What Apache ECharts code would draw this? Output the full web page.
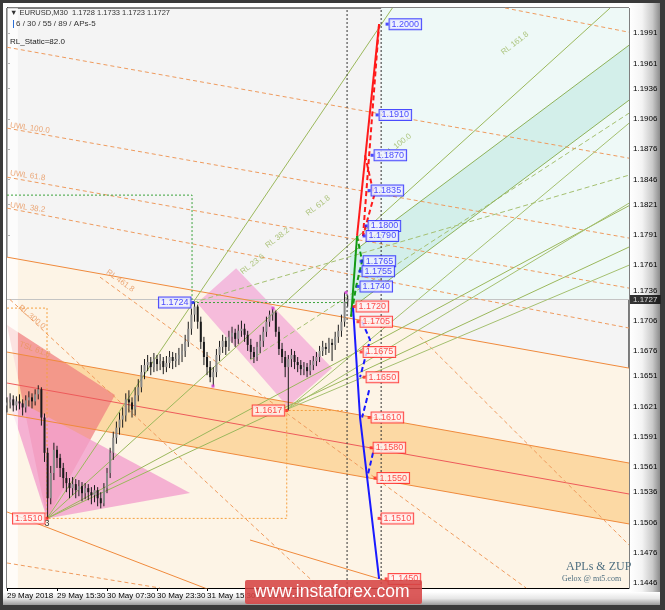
<!DOCTYPE html>
<html><head><meta charset="utf-8">
<script src="https://cdn.jsdelivr.net/npm/echarts@6/dist/echarts.min.js"></script>
<style>
html,body{margin:0;padding:0;width:665px;height:610px;overflow:hidden;background:#3a3a3a;}
#frame{position:absolute;left:3px;top:3px;width:657px;height:602px;background:#fff;}
#rbev{position:absolute;left:630px;top:3px;width:30px;height:602px;background:linear-gradient(to right,#ffffff 0%,#f4f4f4 40%,#c9c9c9 75%,#8c8c8c 100%);}
#bbev{position:absolute;left:3px;top:592px;width:657px;height:13px;background:linear-gradient(to bottom,#ffffff 0%,#e6e6e6 50%,#9a9a9a 100%);}
#chart{position:absolute;left:0;top:0;width:665px;height:610px;}
</style></head><body>
<div id="frame"></div><div id="rbev"></div><div id="bbev"></div><div id="chart"></div>
<script>
// ---------- axis ticks ----------
const xTickValues = [0, 32, 64, 96, 128, 160, 192];
const xTickLabels = ['29 May 2018', '29 May 15:30', '30 May 07:30', '30 May 23:30', '31 May 15:30', '01 Jun 07:30', '01 Jun 23:30'];
const yTickValues = [1.1446, 1.1476, 1.1506, 1.1536, 1.1561, 1.1591, 1.1621, 1.1651, 1.1676, 1.1706, 1.1736, 1.1761, 1.1791, 1.1821, 1.1846, 1.1876, 1.1906, 1.1936, 1.1961, 1.1991];
const lastPrice = 1.1727;

// ---------- price bars (open, close, low, high), one every 2 M30 bars ----------
const priceBars = [
[1.1622,1.1625,1.1615,1.1630],[1.1625,1.1628,1.1619,1.1634],[1.1628,1.1622,1.1616,1.1632],[1.1622,1.1626,1.1617,1.1631],
[1.1626,1.1624,1.1618,1.1633],[1.1624,1.1620,1.1612,1.1628],[1.1620,1.1627,1.1615,1.1632],[1.1627,1.1630,1.1621,1.1636],
[1.1630,1.1626,1.1619,1.1634],[1.1626,1.1633,1.1622,1.1638],[1.1633,1.1638,1.1628,1.1642],[1.1638,1.1610,1.1602,1.1640],
[1.1610,1.1575,1.1566,1.1614],[1.1575,1.1530,1.1510,1.1580],[1.1530,1.1555,1.1524,1.1562],[1.1555,1.1578,1.1548,1.1585],
[1.1578,1.1570,1.1560,1.1582],[1.1570,1.1560,1.1551,1.1574],[1.1560,1.1550,1.1540,1.1565],[1.1550,1.1545,1.1536,1.1556],
[1.1545,1.1540,1.1530,1.1550],[1.1540,1.1544,1.1533,1.1551],[1.1544,1.1538,1.1530,1.1549],[1.1538,1.1542,1.1532,1.1548],
[1.1542,1.1535,1.1527,1.1546],[1.1535,1.1540,1.1529,1.1545],[1.1540,1.1536,1.1528,1.1544],[1.1536,1.1533,1.1524,1.1541],
[1.1533,1.1538,1.1526,1.1543],[1.1538,1.1530,1.1522,1.1541],[1.1530,1.1525,1.1520,1.1536],[1.1525,1.1540,1.1522,1.1545],
[1.1540,1.1555,1.1535,1.1560],[1.1555,1.1575,1.1550,1.1580],[1.1575,1.1590,1.1568,1.1596],[1.1590,1.1600,1.1584,1.1606],
[1.1600,1.1608,1.1593,1.1615],[1.1608,1.1612,1.1600,1.1620],[1.1612,1.1628,1.1606,1.1634],[1.1628,1.1625,1.1615,1.1637],
[1.1625,1.1618,1.1610,1.1630],[1.1618,1.1632,1.1612,1.1640],[1.1632,1.1640,1.1626,1.1648],[1.1640,1.1655,1.1635,1.1662],
[1.1655,1.1662,1.1648,1.1668],[1.1662,1.1665,1.1656,1.1672],[1.1665,1.1660,1.1652,1.1670],[1.1660,1.1668,1.1655,1.1674],
[1.1668,1.1663,1.1656,1.1672],[1.1663,1.1666,1.1657,1.1673],[1.1666,1.1660,1.1653,1.1670],[1.1660,1.1664,1.1655,1.1671],
[1.1664,1.1670,1.1659,1.1676],[1.1670,1.1666,1.1658,1.1675],[1.1666,1.1668,1.1660,1.1674],[1.1668,1.1672,1.1662,1.1679],
[1.1672,1.1676,1.1665,1.1683],[1.1676,1.1685,1.1670,1.1692],[1.1685,1.1698,1.1680,1.1705],[1.1698,1.1712,1.1692,1.1718],
[1.1712,1.1720,1.1705,1.1724],[1.1720,1.1705,1.1698,1.1722],[1.1705,1.1685,1.1678,1.1710],[1.1685,1.1670,1.1662,1.1690],
[1.1670,1.1660,1.1652,1.1675],[1.1660,1.1650,1.1645,1.1666],[1.1650,1.1655,1.1641,1.1660],[1.1655,1.1672,1.1650,1.1678],
[1.1672,1.1680,1.1666,1.1686],[1.1680,1.1686,1.1674,1.1692],[1.1686,1.1680,1.1672,1.1690],[1.1680,1.1690,1.1676,1.1696],
[1.1690,1.1694,1.1684,1.1700],[1.1694,1.1688,1.1680,1.1698],[1.1688,1.1696,1.1683,1.1702],[1.1696,1.1698,1.1690,1.1706],
[1.1698,1.1692,1.1685,1.1703],[1.1692,1.1682,1.1676,1.1696],[1.1682,1.1675,1.1668,1.1688],[1.1675,1.1670,1.1664,1.1680],
[1.1670,1.1680,1.1666,1.1685],[1.1680,1.1686,1.1674,1.1692],[1.1686,1.1695,1.1680,1.1700],[1.1695,1.1705,1.1690,1.1710],
[1.1705,1.1712,1.1700,1.1716],[1.1712,1.1714,1.1706,1.1718],[1.1714,1.1695,1.1690,1.1716],[1.1695,1.1678,1.1672,1.1700],
[1.1678,1.1670,1.1664,1.1684],[1.1670,1.1660,1.1650,1.1676],[1.1660,1.1668,1.1617,1.1672],[1.1668,1.1672,1.1660,1.1678],
[1.1672,1.1665,1.1658,1.1676],[1.1665,1.1662,1.1655,1.1670],[1.1662,1.1658,1.1652,1.1667],[1.1658,1.1660,1.1652,1.1665],
[1.1660,1.1656,1.1650,1.1664],[1.1656,1.1662,1.1652,1.1667],[1.1662,1.1666,1.1657,1.1671],[1.1666,1.1670,1.1661,1.1675],
[1.1670,1.1676,1.1665,1.1681],[1.1676,1.1680,1.1671,1.1686],[1.1680,1.1678,1.1672,1.1684],[1.1678,1.1684,1.1674,1.1689],
[1.1684,1.1682,1.1666,1.1688],[1.1682,1.1690,1.1677,1.1695],[1.1690,1.1696,1.1684,1.1702],[1.1696,1.1705,1.1690,1.1712],
[1.1705,1.1725,1.1700,1.1734],[1.1725,1.1727,1.1720,1.1731]
];
// swing markers on the price bars
const swingMarks = [[131.8,1.16412],[170.2,1.17185],[217,1.1734]];

// ---------- shaded areas (x in M30 bars, y in price) ----------
const peachArea   = [[0,1.1769],[398,1.1659],[398,1.1441],[0,1.1441]];
const orangeBand  = [[0,1.16749],[398,1.15649],[398,1.15045],[0,1.16135]];
const salmonTri   = [[0,1.17017],[69.1,1.16323],[25.6,1.1510]];
const pinkTri     = [[0,1.16323],[117.1,1.15352],[25.6,1.1510]];
const pinkBox     = [[121.6,1.17235],[146.6,1.17581],[208,1.1659],[179.8,1.16204]];
const tealLight   = [[239.4,1.1727],[398,1.1727],[398,1.2016],[239.4,1.2016]];
const tealBand    = [[219.5,1.1772],[398,1.19791],[398,1.19246],[219.5,1.17175]];
const leftStrip   = [[0,1.1441],[7,1.1441],[7,1.2016],[0,1.2016]];

// ---------- lines ----------
const channelTop   = [[0,1.1769],[398,1.1659]];
const bandTop      = [[0,1.16749],[398,1.15649]];
const bandMid      = [[0,1.16442],[398,1.15342]];
const bandBottom   = [[0,1.16135],[398,1.15045]];
const lowerSolid = [
  [[0,1.15164],[129.9,1.1439]],
  [[155.5,1.14886],[257.9,1.1441]]
];
const uwlLines = [
  [[0,1.19771],[398,1.18671]],
  [[0,1.18969],[398,1.17879]],
  [[0,1.18483],[398,1.17383]],
  [[0,1.18176],[398,1.16987]],
  [[318.7,1.2016],[398,1.1992]],
  [[0,1.14658],[97.9,1.1441]]
];
const rlOrangeLines = [
  [[59.5,1.17492],[332.2,1.1441]],
  [[1.9,1.1727],[200.3,1.1441]],
  [[264.3,1.1690],[398,1.14836]]
];
const fanLines = [
  [[25.6,1.1510],[246.6,1.2016]],
  [[25.6,1.1510],[385.9,1.2016]],
  [[25.6,1.1510],[398,1.1820]],
  [[25.6,1.1510],[398,1.1779]]
];
const lowFanLines = [
  [[179,1.1618],[398,1.1761]],
  [[179,1.1618],[398,1.19018]],
  [[179,1.1618],[398,1.18225]]
];
const oliveDashed = [
  [[119,1.1724],[398,1.18503]],
  [[155.5,1.1667],[398,1.19117]]
];
const tealEdges = [
  [[219.5,1.1772],[398,1.19791]],
  [[219.5,1.17175],[398,1.19246]]
];
const greenBoxH = [[0,1.18305],[118.4,1.18305],[118.4,1.1724]];
const greenHigh = [[119,1.1724],[218,1.1724]];
const orangeBox = [[0,1.17185],[25.6,1.17185],[25.6,1.1510],[179,1.1510],[179,1.1617],[218,1.1617]];
const timeMarks = [217.6, 239.4];

// ZUP projection lines
const redSolid   = [[224,1.1790],[238.1,1.2000]];
const redDashed  = [[227.8,1.1790],[238.1,1.2000]];
const redDashed2 = [[229.1,1.1870],[234.9,1.1830],[227.8,1.1790]];
const greenSolid = [[220.2,1.1710],[224,1.1790]];
const greenDashed= [[224,1.1790],[227.2,1.1765],[223.4,1.1740],[220.2,1.1710]];
const blueSolid  = [[221.4,1.1720],[225.9,1.1610],[238.1,1.1450]];
const blueDashed = [
  [[227.2,1.1705],[232.3,1.1687],[225.9,1.1650]],
  [[231.7,1.1637],[227.2,1.1610]],
  [[234.2,1.1575],[230.4,1.1550]]
];

// ZUP target labels [x, price]
const blueTargets = [[243.2,1.2000],[236.8,1.1910],[233.6,1.1870],[231.7,1.1835],[229.8,1.1800],[228.5,1.1790],[226.6,1.1765],[225.9,1.1755],[224.6,1.1740]];
const redTargets  = [[222.1,1.1720],[224.6,1.1705],[226.6,1.1675],[228.5,1.1650],[231.7,1.1610],[233,1.1580],[235.5,1.1550],[238.1,1.1510],[242.6,1.1450]];
const swingHigh = [119, 1.1724];
const swingLow  = [179, 1.1617];
const pivot3    = [25.6, 1.1510];

// text marks along the lines
const uwlTexts = [[1.9,1.18998,'UWL 100.0'],[1.9,1.18523,'UWL 61.8'],[1.9,1.18206,'UWL 38.2']];
const rlTexts  = [[325,1.1981,'RL 161.8'],[250,1.1880,'RL 100.0'],[199,1.1820,'RL 61.8'],[173,1.1788,'RL 38.2'],[157,1.1762,'RL 23.6']];
const orangeTexts = [[64,1.1755,'RL 461.8',-36],[8,1.1720,'RL 300.0',-40],[8,1.1683,'TSL 61.8',-20]];

const FONT = 'Liberation Sans, Arial, sans-serif';
const chart = echarts.init(document.getElementById('chart'));

function poly(points, fill, z) {
  return { type: 'custom', silent: true, clip: true, z: z, animation: false,
    data: [points[0]],
    renderItem: function (params, api) {
      return { type: 'polygon', shape: { points: points.map(function (p) { return api.coord(p); }) }, style: { fill: fill } };
    } };
}
function line(pts, color, type, width, z) {
  return { type: 'line', data: pts, symbol: 'none', silent: true, animation: false, z: z || 3,
    lineStyle: { color: color, width: width || 1, type: type || 'solid' } };
}
function targetLabels(pts, col, bg) {
  return { type: 'scatter', data: pts, symbol: 'rect', symbolSize: 3, z: 20, clip: false, animation: false,
    itemStyle: { color: col },
    label: { show: true, position: 'right', distance: 1, formatter: function (p) { return p.value[1].toFixed(4); },
      color: col, fontSize: 9, fontFamily: FONT, backgroundColor: bg, borderColor: col, borderWidth: 1, padding: [1, 2, 0, 2] } };
}

const series = [];
series.push(poly(peachArea, '#fdf4e6', 1));
series.push(poly(tealLight, '#eef9f7', 1));
series.push(poly(tealBand, '#d3efea', 1));
series.push(poly(orangeBand, '#fcd9a4', 1));
series.push(poly(salmonTri, 'rgba(240,130,130,0.75)', 1));
series.push(poly(pinkTri, 'rgba(243,160,205,0.8)', 1));
series.push(poly(pinkBox, 'rgba(243,170,215,0.75)', 1));
series.push(poly(leftStrip, 'rgba(255,255,255,0.7)', 1));

series.push(line(channelTop, '#f08a3c', 'solid', 1));
series.push(line(bandTop, '#f08a3c', 'solid', 1));
series.push(line(bandMid, '#ee5a5a', 'solid', 1));
series.push(line(bandBottom, '#f08a3c', 'solid', 1));
lowerSolid.forEach(function (l) { series.push(line(l, '#f08a3c', 'solid', 1)); });
uwlLines.forEach(function (l) { series.push(line(l, '#ef9b5e', [4, 3], 1)); });
rlOrangeLines.forEach(function (l) { series.push(line(l, '#ef9b5e', [4, 3], 1)); });
fanLines.forEach(function (l) { series.push(line(l, '#9bb85c', 'solid', 1)); });
lowFanLines.forEach(function (l) { series.push(line(l, '#a5c070', 'solid', 1)); });
oliveDashed.forEach(function (l) { series.push(line(l, '#a5c070', [5, 3], 1)); });
tealEdges.forEach(function (l) { series.push(line(l, '#8fb35a', 'solid', 1)); });
series.push(line(greenBoxH, '#3aa23a', [2, 2], 1));
series.push(line(greenHigh, '#3aa23a', [2, 2], 1));
series.push(line(orangeBox, '#f5a040', [2, 2], 1));
timeMarks.forEach(function (t) { series.push(line([[t, 1.1441], [t, 1.2016]], '#333', [2, 2], 1, 4)); });
series.push(line([[0, lastPrice], [398, lastPrice]], '#c4c4c4', 'solid', 1, 2));

// candles
series.push({ type: 'custom', z: 10, animation: false, silent: true,
  data: priceBars.map(function (b, i) { return [i * 2, b[0], b[1], b[2], b[3]]; }),
  renderItem: function (params, api) {
    const u = api.value(0), o = api.value(1), c = api.value(2), l = api.value(3), h = api.value(4);
    const pl = api.coord([u, l]), ph = api.coord([u, h]), po = api.coord([u, o]), pc = api.coord([u, c]);
    return { type: 'group', children: [
      { type: 'line', shape: { x1: pl[0], y1: pl[1], x2: ph[0], y2: ph[1] }, style: { stroke: '#1a1a1a', lineWidth: 1 } },
      { type: 'rect', shape: { x: po[0] - 1, y: Math.min(po[1], pc[1]), width: 2, height: Math.max(1, Math.abs(po[1] - pc[1])) },
        style: { fill: c >= o ? '#8a8a8a' : '#1a1a1a' } }
    ] };
  } });
series.push({ type: 'scatter', data: swingMarks, symbol: 'rect', symbolSize: 3, z: 11, silent: true, animation: false,
  itemStyle: { color: '#d23ad2' } });

series.push(line(redSolid, '#ff1a1a', 'solid', 2, 12));
series.push(line(redDashed, '#ff1a1a', [5, 3], 2, 12));
series.push(line(redDashed2, '#ff1a1a', [5, 3], 2, 12));
series.push(line(greenSolid, '#139a13', 'solid', 2, 12));
series.push(line(greenDashed, '#139a13', [5, 3], 2, 12));
series.push(line(blueSolid, '#1a1aff', 'solid', 2, 12));
blueDashed.forEach(function (l) { series.push(line(l, '#1a1aff', [5, 3], 2, 12)); });

series.push(targetLabels(blueTargets, '#2020ff', '#eef0ff'));
series.push(targetLabels(redTargets, '#ff2020', '#fff2f2'));
const leftLab = function (pt, col, bg) {
  const s = targetLabels([pt], col, bg); s.label.position = 'left'; return s;
};
series.push(leftLab(swingHigh, '#2020ff', '#eef0ff'));
series.push(leftLab(swingLow, '#ff2020', '#fff2f2'));
series.push(leftLab(pivot3, '#ff2020', '#fff2f2'));

// text marks
series.push({ type: 'scatter', symbolSize: 0, z: 15, silent: true, animation: false,
  data: uwlTexts.map(function (t) { return { value: [t[0], t[1]], name: t[2] }; }),
  label: { show: true, position: 'right', distance: 0, formatter: '{b}', color: '#e9955a', fontSize: 8, fontFamily: FONT, rotate: -8 } });
orangeTexts.forEach(function (t) {
  series.push({ type: 'scatter', symbolSize: 0, z: 15, silent: true, animation: false,
    data: [{ value: [t[0], t[1]], name: t[2] }],
    label: { show: true, position: 'right', distance: 0, formatter: '{b}', color: '#e9955a', fontSize: 8, fontFamily: FONT, rotate: t[3] } });
});
series.push({ type: 'scatter', symbolSize: 0, z: 15, silent: true, animation: false,
  data: rlTexts.map(function (t) { return { value: [t[0], t[1]], name: t[2] }; }),
  label: { show: true, position: 'inside', formatter: '{b}', color: '#9cb860', fontSize: 8, fontFamily: FONT, rotate: 38 } });
series.push({ type: 'scatter', symbolSize: 0, z: 15, silent: true, animation: false,
  data: [{ value: pivot3, name: '3' }],
  label: { show: true, position: 'bottom', distance: 1, formatter: '{b}', color: '#000', fontSize: 9, fontFamily: FONT } });

// last price tag
series.push({ type: 'scatter', data: [[398, lastPrice]], symbolSize: 0, clip: false, z: 30, animation: false,
  label: { show: true, position: 'right', distance: 1, formatter: function () { return lastPrice.toFixed(4); },
    color: '#fff', backgroundColor: '#000', fontSize: 8, fontFamily: FONT, padding: [1, 3, 0, 3] } });

chart.setOption({
  animation: false,
  grid: { left: 7, right: 36, top: 8, bottom: 22, show: true, backgroundColor: '#f4f4f4', borderColor: '#000', borderWidth: 1 },
  xAxis: { type: 'value', min: 0, max: 398,
    axisLine: { show: true, lineStyle: { color: '#000' } },
    axisTick: { show: true, length: 3, customValues: xTickValues, lineStyle: { color: '#000' } },
    axisLabel: { customValues: xTickValues, align: 'left', margin: 4, fontSize: 8, color: '#000', fontFamily: FONT,
      formatter: function (v) { const i = xTickValues.indexOf(v); return i >= 0 ? xTickLabels[i] : ''; } },
    splitLine: { show: false } },
  yAxis: { type: 'value', min: 1.1441, max: 1.2016, position: 'right',
    axisLine: { show: true, lineStyle: { color: '#000' } },
    axisTick: { show: true, length: 3, customValues: yTickValues, lineStyle: { color: '#000' } },
    axisLabel: { customValues: yTickValues, margin: 4, fontSize: 8, color: '#000', fontFamily: FONT,
      formatter: function (v) { return v.toFixed(4); } },
    splitLine: { show: false } },
  graphic: [
    { type: 'text', left: 10, top: 9, z: 50, style: { text: '▼ EURUSD,M30  1.1728 1.1733 1.1723 1.1727', fill: '#333', font: '7.5px ' + FONT } },
    { type: 'rect', left: 13, top: 20, z: 50, shape: { width: 1, height: 8 }, style: { fill: '#2a6fd6' } },
    { type: 'text', left: 16, top: 20, z: 50, style: { text: '6 / 30 / 55 / 89 / APs-5', fill: '#333', font: '8px ' + FONT } },
    { type: 'text', left: 10, top: 38, z: 50, style: { text: 'RL_Static=82.0', fill: '#222', font: '8px ' + FONT } },
    { type: 'text', left: 566, top: 561, z: 50, style: { text: 'APLs & ZUP', fill: '#4f6f80', font: '12px Liberation Serif, serif' } },
    { type: 'text', left: 562, top: 575, z: 50, style: { text: 'Gelox @ mt5.com', fill: '#4f6f80', font: '8px Liberation Serif, serif' } },
    { type: 'rect', left: 245, top: 580, z: 60, shape: { width: 177, height: 24, r: 2 }, style: { fill: 'rgba(214,68,68,0.88)' } },
    { type: 'text', left: 254, top: 583, z: 61, style: { text: 'www.instaforex.com', fill: '#fff', font: '17.5px Liberation Sans, Arial, sans-serif' } }
  ],
  series: series
});
</script></body></html>
